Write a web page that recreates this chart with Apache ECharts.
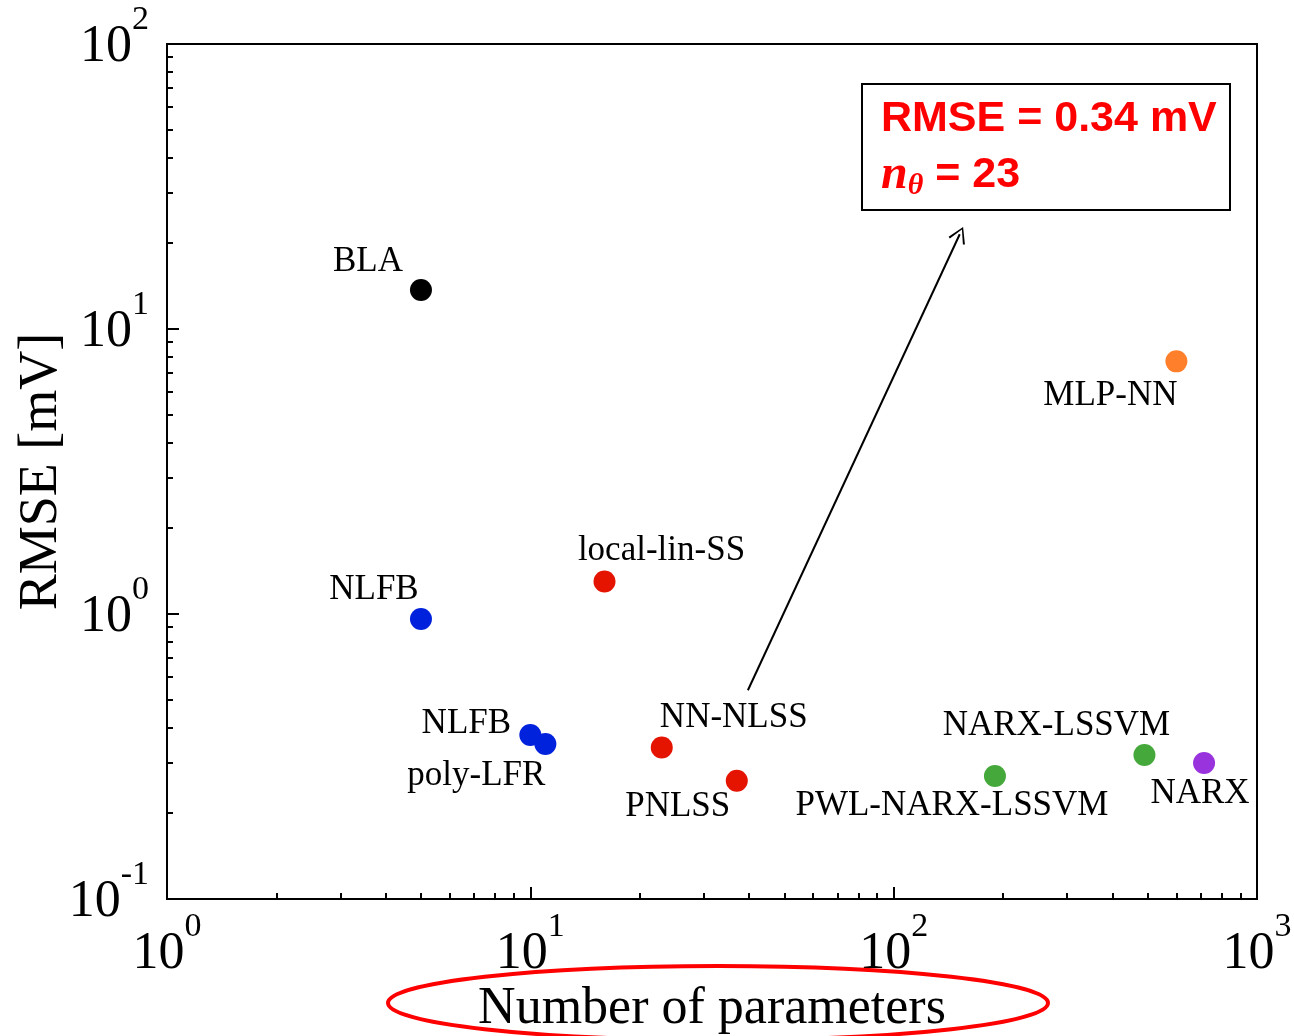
<!DOCTYPE html>
<html>
<head>
<meta charset="utf-8">
<script src="https://cdn.jsdelivr.net/npm/echarts@6/dist/echarts.min.js"></script>
<style>html,body{margin:0;padding:0;background:#fff}#c{width:1294px;height:1036px}</style>
</head>
<body>
<div id="c"></div>
<script>
// ---- data ----
const names  = ['BLA','NLFB','NLFB','poly-LFR','local-lin-SS','NN-NLSS','PNLSS','PWL-NARX-LSSVM','NARX-LSSVM','NARX','MLP-NN'];
const params = [5, 5, 10, 11, 16, 23, 37, 190, 490, 715, 600];
const rmse   = [13.7, 0.96, 0.376, 0.35, 1.30, 0.34, 0.26, 0.27, 0.32, 0.30, 7.7];
const groups = ['black','blue','blue','blue','red','red','red','green','green','purple','orange'];
const xMajor = [1, 10, 100, 1000];
const yMajor = [0.1, 1, 10, 100];
const arrowFrom = [39.7, 0.54];
const arrowTo   = [152, 21.5];

// ---- styles ----
const palette = {black:'#000000', blue:'#0022dd', red:'#e41400', green:'#44a83a', purple:'#9933dd', orange:'#ff7f2a'};
const labelOffsets = [[-53,-28],[-47,-29],[-64,-11],[-69,32],[57,-31],[72,-30],[-59,26],[-43,30],[-88,-29],[-4,31],[-66,34]];
const serif = 'Liberation Serif';

function minors(lo, hi){ const out=[]; for(let d=lo; d<hi; d*=10){ for(let k=2;k<=9;k++) out.push(+(k*d).toPrecision(3)); } return out; }
const xMinor = minors(1, 1000);
const yMinor = minors(0.1, 100);

const expFmt = v => { const e = Math.round(Math.log10(v)); return '{b|10}{s|' + e + '}'; };
const richLbl = {
  b: {fontSize: 52, fontFamily: serif, color:'#000', lineHeight: 52, verticalAlign:'bottom'},
  s: {fontSize: 34, fontFamily: serif, color:'#000', lineHeight: 34, verticalAlign:'bottom', padding:[0,0,36,0]}
};

const chart = echarts.init(document.getElementById('c'), null, {renderer:'canvas'});
const data = names.map((n,i)=>({
  value:[params[i], rmse[i]],
  name:n,
  itemStyle:{color: palette[groups[i]], opacity:1},
  label:{offset: labelOffsets[i]}
}));

const axisCommon = {type:'log', logBase:10};
chart.setOption({
  animation:false,
  backgroundColor:'#fff',
  grid:{left:167, right:37, top:44, bottom:137, outerBoundsMode:'none', containLabel:false, show:true, borderColor:'#000', borderWidth:2, backgroundColor:'transparent'},
  xAxis:[
    Object.assign({}, axisCommon, {
      min:1, max:1000, position:'bottom',
      name:'Number of parameters', nameLocation:'middle', nameGap:84, nameMoveOverlap:false,
      nameTextStyle:{fontFamily:serif, fontSize:52, color:'#000'},
      axisLine:{show:true, lineStyle:{color:'#000', width:2}},
      axisTick:{show:true, inside:true, length:12, lineStyle:{color:'#000', width:2}, customValues: xMajor},
      axisLabel:{show:true, customValues: xMajor, formatter: expFmt, rich: richLbl, margin: 29, showMinLabel:true, showMaxLabel:true},
      splitLine:{show:false}
    }),
    Object.assign({}, axisCommon, {
      min:1, max:1000, position:'bottom',
      axisLine:{show:false},
      axisTick:{show:true, inside:true, length:6, lineStyle:{color:'#000', width:2}, customValues: xMinor},
      axisLabel:{show:false}, splitLine:{show:false}
    })
  ],
  yAxis:[
    Object.assign({}, axisCommon, {
      min:0.1, max:100, position:'left',
      name:'RMSE [mV]', nameLocation:'middle', nameGap:98, nameRotate:90, nameMoveOverlap:false,
      nameTextStyle:{fontFamily:serif, fontSize:54, color:'#000'},
      axisLine:{show:true, lineStyle:{color:'#000', width:2}},
      axisTick:{show:true, inside:true, length:12, lineStyle:{color:'#000', width:2}, customValues: yMajor},
      axisLabel:{show:true, customValues: yMajor, formatter: expFmt, rich: richLbl, margin: 18, padding:[6,0,0,0], showMinLabel:true, showMaxLabel:true},
      splitLine:{show:false}
    }),
    Object.assign({}, axisCommon, {
      min:0.1, max:100, position:'left',
      axisLine:{show:false},
      axisTick:{show:true, inside:true, length:6, lineStyle:{color:'#000', width:2}, customValues: yMinor},
      axisLabel:{show:false}, splitLine:{show:false}
    })
  ],
  series:[{
    type:'scatter', xAxisIndex:0, yAxisIndex:0,
    symbol:'circle', symbolSize:22,
    itemStyle:{opacity:1},
    data: data,
    label:{show:true, position:'inside', formatter:'{b}', fontFamily:serif, fontSize:35, color:'#000', opacity:1, align:'center', verticalAlign:'middle'},
    markLine:{
      silent:true, animation:false,
      symbol:['none','path://M10,0 L20,16 L18,17 L10,3 L2,17 L0,16 Z'],
      symbolSize:[18,16], symbolKeepAspect:false,
      lineStyle:{color:'#000', width:2, type:'solid', opacity:1},
      itemStyle:{color:'#000', opacity:1},
      label:{show:false},
      data:[[{coord: arrowFrom}, {coord: arrowTo}]]
    }
  }],
  graphic:[
    {type:'rect', left:861, top:83, shape:{width:368, height:126}, style:{fill:'#fff', stroke:'#000', lineWidth:2}, z:100},
    {type:'text', left:881, top:98, z:101, style:{
      text:'{r|RMSE = 0.34 mV}\n{n|n}{t|θ}{r| = 23}',
      rich:{
        r:{fontFamily:'Liberation Sans', fontWeight:'bold', fontSize:43, fill:'#ff0000', lineHeight:56},
        n:{fontFamily:'Liberation Serif', fontWeight:'bold', fontStyle:'italic', fontSize:48, fill:'#ff0000', lineHeight:56},
        t:{fontFamily:'Liberation Serif', fontWeight:'bold', fontStyle:'italic', fontSize:30, fill:'#ff0000', lineHeight:30, verticalAlign:'top', padding:[24,0,0,0]}
      }
    }},
    {type:'ellipse', shape:{cx:718, cy:1003, rx:330, ry:37}, style:{fill:'none', stroke:'#ff0000', lineWidth:4}, z:50}
  ]
});
</script>
</body>
</html>
